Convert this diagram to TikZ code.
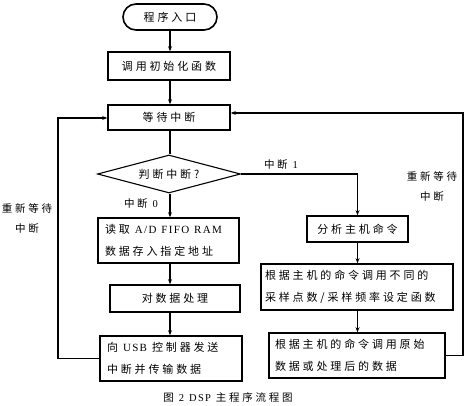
\documentclass[tikz,border=0pt]{standalone}
\usepackage{fontspec}
\setmainfont{Liberation Serif}
\newfontfamily\cjk[LetterSpace=26]{Noto Sans CJK SC}
\newfontfamily\lat[LetterSpace=12]{Liberation Serif}
\newcommand\gap{\hspace{5pt}}
\usetikzlibrary{shapes.geometric,arrows.meta}
\begin{document}
\begin{tikzpicture}[x=1pt,y=-1pt,
  every node/.style={font=\cjk\fontsize{11}{22}\selectfont, inner sep=0pt},
  box/.style={draw, line width=1.6pt, align=left},
  conn/.style={line width=1.1pt, -{Stealth[length=5pt,width=4pt]}},
  lbl/.style={font=\cjk\fontsize{10.5}{20}\selectfont, align=center}]
\useasboundingbox (0,0) rectangle (468,406);
\node[box, rounded corners=13pt, minimum width=94pt, minimum height=26pt] (start) at (170,17) {程序入口};
\node[box, minimum width=122pt, minimum height=28pt] (init) at (169,66) {调用初始化函数};
\node[box, minimum width=122pt, minimum height=25pt] (wait) at (169,117.5) {等待中断};
\node[draw, line width=1.1pt, diamond, aspect=3.7, minimum width=143pt, minimum height=38pt] (dia) at (169,174) {判断中断?};
\node[box, minimum width=141pt, minimum height=45pt, text width=127pt] (read) at (168.5,240.5) {读取\gap{\lat A/D\gap FIFO\gap RAM}\\数据存入指定地址};
\node[box, minimum width=130pt, minimum height=27pt, align=center] (proc) at (175,298.5) {对数据处理};
\node[box, minimum width=142pt, minimum height=45pt, text width=128pt] (usb) at (171,358.5) {向\gap{\lat USB}\gap 控制器发送\\中断并传输数据};
\node[box, minimum width=101pt, minimum height=26pt, align=center] (ana) at (357.5,229) {分析主机命令};
\node[box, minimum width=192pt, minimum height=46pt, text width=184pt] (samp) at (357,287) {根据主机的命令调用不同的\\采样点数/采样频率设定函数};
\node[box, minimum width=176pt, minimum height=45pt, text width=164pt] (fin) at (357,355.5) {根据主机的命令调用原始\\数据或处理后的数据};
% labels
\node[lbl] (l0) at (141,204) {中断\gap{\lat 0}};
\node[lbl] (l1) at (281,165) {中断\gap{\lat 1}};
\node[lbl] (lleft) at (27,219) {重新等待\\中断};
\node[lbl] (lright) at (432,187) {重新等待\\中断};
\node[font=\cjk\fontsize{10.5}{12}\selectfont] (cap) at (228,397) {图\gap{\lat 2\gap DSP}\gap 主程序流程图};
% connectors
\draw[conn] (start.south) -- (start.south |- init.north);
\draw[conn] (init.south -| start.south) -- (start.south |- wait.north);
\draw[line width=1.1pt] (wait.south -| start.south) -- (start.south |- dia.north);
\draw[conn] (dia.south -| start.south) -- (start.south |- read.north);
\draw[conn] (read.south -| start.south) -- (start.south |- proc.north);
\draw[conn] (proc.south -| start.south) -- (start.south |- usb.north);
\draw[conn] (dia.east) -| (ana.north);
\draw[conn] (ana.south) -- (ana.south |- samp.north);
\draw[conn] (samp.south -| ana.south) -- (ana.south |- fin.north);
\coordinate (rc) at (463,113);
\draw[conn] (fin.east) -| (rc) -- (rc -| wait.east);
\coordinate (lc) at (58,118);
\draw[conn] (usb.west) -| (lc) -- (lc -| wait.west);
\end{tikzpicture}
\end{document}
